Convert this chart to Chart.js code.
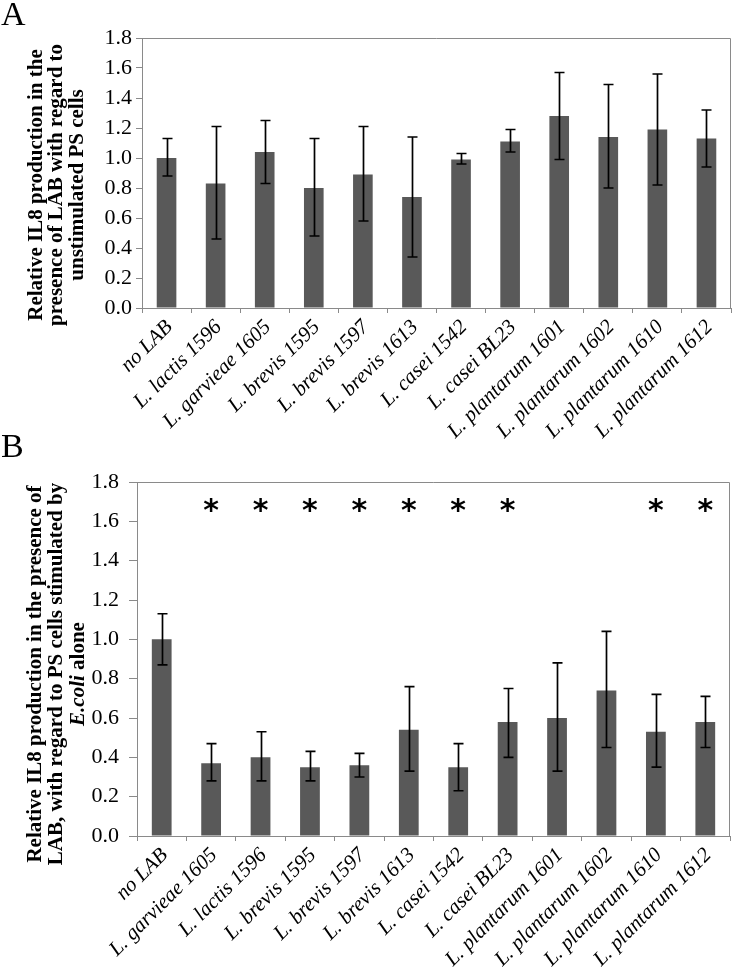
<!DOCTYPE html>
<html>
<head>
<meta charset="utf-8">
<script src="https://cdn.jsdelivr.net/npm/chart.js@4/dist/chart.umd.min.js"></script>
<style>
html, body { margin: 0; padding: 0; background: #fff; }
body { position: relative; width: 736px; height: 972px; }
canvas { display: block; position: absolute; left: 0; }
#chartA { top: 0; }
#chartB { top: 420px; }
</style>
</head>
<body>
<canvas id="chartA" width="736" height="450"></canvas>
<canvas id="chartB" width="736" height="552"></canvas>
<script>
// panel A - relative to unstimulated cells
const labelsA = ['no LAB', 'L. lactis 1596', 'L. garvieae 1605', 'L. brevis 1595', 'L. brevis 1597', 'L. brevis 1613',
    'L. casei 1542', 'L. casei BL23', 'L. plantarum 1601', 'L. plantarum 1602', 'L. plantarum 1610', 'L. plantarum 1612'];
const valuesA = [1.00, 0.83, 1.04, 0.80, 0.89, 0.74, 0.99, 1.11, 1.28, 1.14, 1.19, 1.13];
const highA   = [1.13, 1.21, 1.25, 1.13, 1.21, 1.14, 1.03, 1.19, 1.57, 1.49, 1.56, 1.32];
const lowA    = [0.88, 0.46, 0.83, 0.48, 0.58, 0.34, 0.96, 1.04, 0.99, 0.80, 0.82, 0.94];

// panel B - relative to E.coli alone
const labelsB = ['no LAB', 'L. garvieae 1605', 'L. lactis 1596', 'L. brevis 1595', 'L. brevis 1597', 'L. brevis 1613',
    'L. casei 1542', 'L. casei BL23', 'L. plantarum 1601', 'L. plantarum 1602', 'L. plantarum 1610', 'L. plantarum 1612'];
const valuesB = [1.00, 0.37, 0.40, 0.35, 0.36, 0.54, 0.35, 0.58, 0.60, 0.74, 0.53, 0.58];
const highB   = [1.13, 0.47, 0.53, 0.43, 0.42, 0.76, 0.47, 0.75, 0.88, 1.04, 0.72, 0.71];
const lowB    = [0.87, 0.28, 0.28, 0.28, 0.30, 0.33, 0.23, 0.40, 0.33, 0.45, 0.35, 0.45];
const starsB  = ['', '*', '*', '*', '*', '*', '*', '*', '', '', '*', '*'];
const starLevel = 1.68;

const yTicks = [0.0, 0.2, 0.4, 0.6, 0.8, 1.0, 1.2, 1.4, 1.6, 1.8];

const titleA = [
    [{ t: 'Relative IL8 production in the' }],
    [{ t: 'presence of LAB with regard to' }],
    [{ t: 'unstimulated PS cells' }]
];
const titleB = [
    [{ t: 'Relative IL8 production in the presence of' }],
    [{ t: 'LAB, with regard to PS cells stimulated by' }],
    [{ t: 'E.coli', it: true }, { t: ' alone' }]
];

const AXIS_GRAY = '#8a8a8a';
const SERIF = '"Liberation Serif", "Times New Roman", serif';

const overlay = {
    id: 'overlay',
    afterDatasetsDraw(chart, args, o) {
        const ctx = chart.ctx;
        const xs = chart.scales.x, ys = chart.scales.y, a = chart.chartArea;
        ctx.save();

        // top and right frame
        ctx.strokeStyle = AXIS_GRAY;
        ctx.lineWidth = 1;
        ctx.beginPath();
        ctx.moveTo(a.left, a.top + 0.5);
        ctx.lineTo(a.right - 0.5, a.top + 0.5);
        ctx.lineTo(a.right - 0.5, a.bottom);
        ctx.stroke();

        // error bars
        ctx.strokeStyle = '#000';
        ctx.lineWidth = 1.7;
        o.low.forEach((lo, i) => {
            const px = Math.round(xs.getPixelForValue(i)) + 0.5;
            const y1 = ys.getPixelForValue(lo), y2 = ys.getPixelForValue(o.high[i]);
            ctx.beginPath();
            ctx.moveTo(px, y1); ctx.lineTo(px, y2);
            ctx.moveTo(px - 5, y1); ctx.lineTo(px + 5, y1);
            ctx.moveTo(px - 5, y2); ctx.lineTo(px + 5, y2);
            ctx.stroke();
        });

        // significance marks
        if (o.stars) {
            ctx.fillStyle = '#000';
            ctx.font = 'bold 30px "DejaVu Sans", sans-serif';
            ctx.textAlign = 'center';
            ctx.textBaseline = 'alphabetic';
            const cy = ys.getPixelForValue(starLevel);
            o.stars.forEach((s, i) => {
                if (!s) return;
                const m = ctx.measureText(s);
                ctx.fillText(s, xs.getPixelForValue(i), cy + (m.actualBoundingBoxAscent - m.actualBoundingBoxDescent) / 2);
            });
        }

        // y axis title, rotated
        ctx.save();
        ctx.translate(o.titleX, o.titleY);
        ctx.rotate(-Math.PI / 2);
        ctx.textBaseline = 'middle';
        ctx.textAlign = 'left';
        ctx.fillStyle = '#000';
        o.title.forEach((segs, li) => {
            let w = 0;
            segs.forEach(s => { ctx.font = (s.it ? 'italic ' : '') + 'bold 21px ' + SERIF; w += ctx.measureText(s.t).width; });
            let x = -w / 2;
            const y = (li - 1) * o.lineH;
            segs.forEach(s => {
                ctx.font = (s.it ? 'italic ' : '') + 'bold 21px ' + SERIF;
                ctx.fillText(s.t, x, y);
                x += ctx.measureText(s.t).width;
            });
        });
        ctx.restore();

        // panel letter
        ctx.font = '34px ' + SERIF;
        ctx.textAlign = 'left';
        ctx.textBaseline = 'alphabetic';
        ctx.fillStyle = '#000';
        ctx.fillText(o.letter, 1, o.letterY);

        ctx.restore();
    }
};

function makePanel(id, labels, values, low, high, geo, extra) {
    const ctx = document.getElementById(id).getContext('2d');
    return new Chart(ctx, {
        type: 'bar',
        data: {
            labels: labels,
            datasets: [{
                data: values,
                backgroundColor: '#595959',
                borderWidth: 0,
                barPercentage: 0.4,
                categoryPercentage: 1
            }]
        },
        options: {
            responsive: false,
            animation: false,
            devicePixelRatio: 1,
            layout: { padding: { top: geo.top, right: geo.right, left: 0, bottom: 0 } },
            scales: {
                x: {
                    grid: { offset: true, drawOnChartArea: false, color: AXIS_GRAY, tickLength: 5 },
                    border: { color: AXIS_GRAY },
                    ticks: {
                        autoSkip: false, minRotation: 45, maxRotation: 45, padding: 2, labelOffset: 3,
                        color: '#000', font: { family: SERIF, size: 21, style: 'italic' }
                    },
                    afterFit: s => { s.height = geo.xHeight; s.paddingLeft = 0; s.paddingRight = 0; }
                },
                y: {
                    min: 0, max: 1.8,
                    afterBuildTicks: s => { s.ticks = yTicks.map(v => ({ value: v })); },
                    grid: { drawOnChartArea: false, color: AXIS_GRAY, tickLength: geo.tickLen },
                    border: { color: AXIS_GRAY },
                    ticks: {
                        padding: geo.tickPad, color: '#000',
                        font: { family: SERIF, size: 22 },
                        callback: v => Number(v).toFixed(1)
                    },
                    afterFit: s => { s.width = geo.left; }
                }
            },
            plugins: {
                legend: { display: false },
                tooltip: { enabled: false },
                overlay: Object.assign({ low: low, high: high }, extra)
            }
        },
        plugins: [overlay]
    });
}

// canvas A: 0..450, plot 38..308
makePanel('chartA', labelsA, valuesA, lowA, highA,
    { top: 38, right: 5, left: 142, xHeight: 142, tickLen: 6, tickPad: 4 },
    { title: titleA, titleX: 57, titleY: 185, lineH: 20.5, letter: 'A', letterY: 25 });

// canvas B: starts at 420, plot 482..836 on the page
makePanel('chartB', labelsB, valuesB, lowB, highB,
    { top: 62, right: 6, left: 137, xHeight: 136, tickLen: 8, tickPad: 10 },
    { title: titleB, titleX: 57, titleY: 254, lineH: 21.5, letter: 'B', letterY: 37, stars: starsB });
</script>
</body>
</html>
